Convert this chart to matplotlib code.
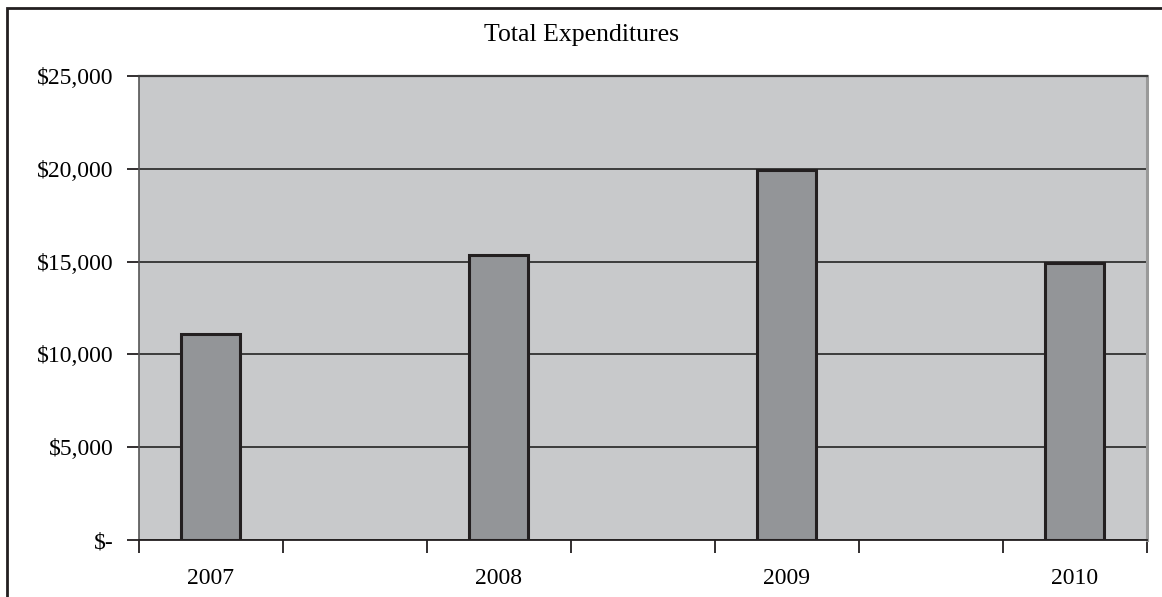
import numpy as np
import matplotlib.pyplot as plt
from matplotlib.patches import Rectangle
from matplotlib.ticker import FuncFormatter

years = ['2007', '2008', '2009', '2010']
expenditures = [11100, 15350, 19950, 14950]
y_ticks = [0, 5000, 10000, 15000, 20000, 25000]

plt.rcParams['font.family'] = ['Liberation Serif', 'DejaVu Serif']

fig = plt.figure(figsize=(11.62, 5.97), dpi=100)
ax = fig.add_axes([138.5 / 1162, 57 / 597, 1008 / 1162, 464 / 597])
ax.set_facecolor('#c8c9cb')

# Excel-style: every year sits in every other category slot
n_slots = 2 * len(years) - 1
x = np.arange(len(years)) * 2
ax.bar(x, expenditures, width=0.41, color='#939598', edgecolor='#231f20',
       linewidth=2.2, zorder=3)

ax.set_xlim(-0.5, n_slots - 0.5)
ax.set_ylim(y_ticks[0], y_ticks[-1])
ax.set_yticks(y_ticks)
ax.yaxis.set_major_formatter(FuncFormatter(
    lambda v, p: '$-' if v == 0 else '${:,.0f}'.format(v)))
ax.grid(axis='y', color='#3c3c3c', linewidth=1.4, zorder=1)
ax.set_axisbelow(True)

ax.set_xticks(np.arange(n_slots + 1) - 0.5)
ax.set_xticklabels([])
ax.set_xticks(x, minor=True)
ax.set_xticklabels(years, minor=True)
ax.tick_params(axis='x', which='major', length=9, width=1.3, color='#231f20')
ax.tick_params(axis='x', which='minor', length=0, pad=20, labelsize=17)
ax.tick_params(axis='y', length=9, width=1.3, color='#231f20', pad=9,
               labelsize=17)

ax.spines['left'].set_color('#555555')
ax.spines['left'].set_linewidth(1.2)
ax.spines['bottom'].set_color('#231f20')
ax.spines['bottom'].set_linewidth(1.3)
ax.spines['top'].set_color('#3c3c3c')
ax.spines['top'].set_linewidth(1.6)
ax.spines['right'].set_color('#999999')
ax.spines['right'].set_linewidth(2.2)

fig.text(0.5, 1 - 35 / 597, 'Total Expenditures', ha='center', va='center',
         fontsize=18.5)

# outer chart frame, runs past the right and bottom edges
fig.patches.append(Rectangle((7 / 1162, -0.05), 1.0, 1.05 - 7.5 / 597,
                             transform=fig.transFigure, fill=False,
                             edgecolor='#231f20', linewidth=2))

fig.savefig('out.png', dpi=100)
